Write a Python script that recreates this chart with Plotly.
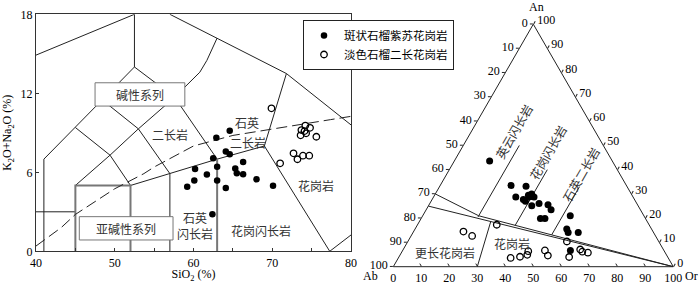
import plotly.graph_objects as go

W, H = 700, 283
SERIF = "Liberation Serif, Noto Sans CJK SC, serif"
CJK = "Noto Sans CJK SC, Liberation Serif, sans-serif"

name_f = "斑状石榴紫苏花岗岩"
name_o = "淡色石榴二长花岗岩"

# ---------------- TAS (SiO2 vs K2O+Na2O) data ----------------
sio2_f = [62.9, 64.6, 62.5, 64.1, 64.6, 60.2, 63.0, 66.3, 61.7, 65.3, 65.5, 66.3,
          60.1, 63.0, 68.0, 59.2, 64.1, 70.1, 62.4]
alk_f = [8.63, 9.16, 7.06, 7.58, 7.37, 6.25, 6.42, 6.78, 5.83, 6.29, 5.92, 5.85,
         5.38, 5.38, 5.47, 4.91, 4.81, 4.98, 2.81]
sio2_o = [69.9, 74.2, 74.8, 73.7, 74.1, 74.3, 73.6, 75.6, 71.0, 72.7, 73.2, 73.9, 74.7]
alk_o = [10.86, 9.55, 9.38, 9.21, 9.13, 8.96, 8.81, 8.70, 6.68, 7.44, 6.99, 7.26, 7.26]

# TAS field boundaries (Middlemost 1994), SiO2 / alkali pairs
b1_x, b1_y = [40, 52.5], [14.9, 18]
b2_x, b2_y = [52.5, 52.5], [18, 14]
b3_x, b3_y = [41, 41], [0, 7]
b4_x, b4_y = [40, 45], [3, 3]
b5_x, b5_y = [41, 45, 48.4, 52.5, 57.6, 63], [7, 9.4, 11.5, 14, 11.7, 7]
b6_x, b6_y = [45, 49.4, 52], [9.4, 7.3, 5]
b7_x, b7_y = [45, 49.4, 53, 57.6, 60.8, 61.7, 63], [5, 7.3, 9.3, 11.7, 13.6, 14.5, 16.2]
b8_x, b8_y = [48.4, 53, 57], [11.5, 9.3, 5.9]
b9_x, b9_y = [57, 71.8, 80], [18, 13.5, 9.6]
b10_x, b10_y = [52, 57, 63, 69], [5, 5.9, 7, 8]
b11_x, b11_y = [57, 57], [0, 5.9]
b12_x, b12_y = [69, 71.8], [8, 13.5]
b13_x, b13_y = [69, 77.3, 80], [8, 0, 1.24]
g1_x, g1_y = [45, 45, 52, 52], [0, 5, 5, 0]
g2_x, g2_y = [63, 63], [0, 7]
# Irvine & Baragar (1971) alkaline / subalkaline divide
ib_x = [40, 43.2, 45, 48, 50, 53.7, 55, 60, 65, 77.4, 80]
ib_y = [0.4, 1.8, 2.8, 4.0, 4.75, 5.9, 6.4, 8.0, 8.8, 10.0, 10.25]

black_lines = [(b1_x, b1_y), (b2_x, b2_y), (b3_x, b3_y), (b4_x, b4_y), (b5_x, b5_y),
               (b6_x, b6_y), (b7_x, b7_y), (b8_x, b8_y), (b9_x, b9_y), (b10_x, b10_y),
               (b11_x, b11_y), (b12_x, b12_y), (b13_x, b13_y)]
gray_lines = [(g1_x, g1_y), (g2_x, g2_y)]


def join(lines):
    xs, ys = [], []
    for x, y in lines:
        xs += list(x) + [None]
        ys += list(y) + [None]
    return xs, ys


# ---------------- An-Ab-Or ternary data ----------------
an_f = [43.6, 33.5, 33.2, 28.7, 27.7, 29.5, 30.0, 28.8, 28.7, 27.0, 25.1, 26.1, 25.5,
        23.5, 19.9, 19.9, 21.0, 15.5, 14.1, 14.1, 6.7]
or_f = [12.6, 25.3, 30.8, 29.4, 32.6, 33.5, 34.4, 34.4, 35.9, 33.7, 36.9, 39.0, 42.5,
        44.6, 42.6, 44.2, 52.7, 54.2, 55.4, 59.0, 59.9]
ab_f = [43.8, 41.2, 36.0, 41.9, 39.7, 37.0, 35.6, 36.8, 35.4, 39.3, 38.0, 34.9, 32.0,
        31.9, 37.5, 35.9, 26.3, 30.3, 30.5, 26.9, 33.4]
an_o = [14.5, 12.7, 17.3, 3.6, 4.1, 4.9, 6.4, 6.7, 4.6, 10.4, 4.0, 7.1, 6.2, 5.8]
or_o = [17.8, 21.8, 28.3, 40.1, 43.2, 45.4, 45.0, 50.8, 52.9, 56.8, 60.8, 63.2, 64.4, 66.6]
ab_o = [67.7, 65.5, 54.4, 56.3, 52.7, 49.7, 48.6, 42.5, 42.5, 32.8, 35.2, 29.7, 29.4, 27.6]

# ternary field boundaries (An, Ab, Or)
tA_an, tA_ab, tA_or = [30, 21, 0], [70, 59, 0], [0, 20, 100]
tB_an, tB_ab, tB_or = [25, 0], [75, 0], [0, 100]
t3_an, t3_ab, t3_or = [20.5, 50], [59.5, 30], [20, 20]
t4_an, t4_ab, t4_or = [17, 40], [48, 25], [35, 35]
t5_an, t5_ab, t5_or = [13.1, 33], [36.9, 17], [50, 50]
t6_an, t6_ab, t6_or = [0, 18.6], [70, 55.9], [30, 25.5]
tern_lines = [(tA_an, tA_ab, tA_or), (tB_an, tB_ab, tB_or), (t3_an, t3_ab, t3_or),
              (t4_an, t4_ab, t4_or), (t5_an, t5_ab, t5_or), (t6_an, t6_ab, t6_or)]
tern_ticks = [0, 10, 20, 30, 40, 50, 60, 70, 80, 90, 100]

fig = go.Figure()

bx, by = join(black_lines)
fig.add_trace(go.Scatter(x=bx, y=by, mode="lines", line=dict(color="#222", width=1),
                         showlegend=False, hoverinfo="skip"))
gx, gy = join(gray_lines)
fig.add_trace(go.Scatter(x=gx, y=gy, mode="lines", line=dict(color="#777", width=2),
                         showlegend=False, hoverinfo="skip"))
fig.add_trace(go.Scatter(x=ib_x, y=ib_y, mode="lines",
                         line=dict(color="#222", width=1, dash="11px,5px"),
                         showlegend=False, hoverinfo="skip"))
fig.add_trace(go.Scatter(x=sio2_f, y=alk_f, mode="markers", name=name_f,
                         marker=dict(symbol="circle", size=6.5, color="black",
                                     line=dict(width=0))))
fig.add_trace(go.Scatter(x=sio2_o, y=alk_o, mode="markers", name=name_o,
                         marker=dict(symbol="circle-open", size=6.5, color="black",
                                     line=dict(width=1.3))))

for a, b, c in tern_lines:
    fig.add_trace(go.Scatterternary(a=a, b=b, c=c, mode="lines",
                                    line=dict(color="#222", width=1),
                                    showlegend=False, hoverinfo="skip"))
fig.add_trace(go.Scatterternary(a=an_f, b=ab_f, c=or_f, mode="markers", name=name_f,
                                marker=dict(symbol="circle", size=7, color="black",
                                            line=dict(width=0)),
                                showlegend=False))
fig.add_trace(go.Scatterternary(a=an_o, b=ab_o, c=or_o, mode="markers", name=name_o,
                                marker=dict(symbol="circle-open", size=6.5, color="black",
                                            line=dict(width=1.3)),
                                showlegend=False))

# ---------------- layout ----------------
def px_x(p):
    """window pixel -> paper fraction"""
    return p / W


def px_y(p):
    return 1 - p / H


left_dom_x = [px_x(36), px_x(351)]
left_dom_y = [px_y(251.3), px_y(14.3)]
tri_w = 280.0
tri_h = tri_w * 3 ** 0.5 / 2
tern_dom_x = [px_x(393.3), px_x(393.3 + tri_w)]
tern_dom_y = [px_y(266.7), px_y(266.7 - tri_h)]

axfont = dict(family=SERIF, size=12, color="black")

tern_axis = dict(tickmode="array", tickvals=tern_ticks,
                 ticktext=[str(100 - v) for v in tern_ticks],
                 ticks="outside", ticklen=3, tickcolor="#222", showgrid=False,
                 showline=True, linecolor="#222", linewidth=1, tickfont=axfont, min=0,
                 title=dict(text=""))

fig.update_layout(
    template="none",
    width=W, height=H, margin=dict(l=0, r=0, t=0, b=0, autoexpand=False),
    paper_bgcolor="white", plot_bgcolor="white",
    font=dict(family=SERIF, size=12, color="black"),
    xaxis=dict(domain=left_dom_x, range=[40, 80], dtick=10, tick0=40, automargin=False,
               ticks="inside", ticklen=3, tickcolor="#333", ticklabeloverflow="allow",
               minor=dict(dtick=5, ticks="inside", ticklen=3, tickcolor="#333"),
               showline=True, linecolor="#333", linewidth=1, mirror=True,
               showgrid=False, zeroline=False, tickfont=axfont,
               title=dict(text="SiO<sub>2</sub> (%)", font=axfont, standoff=2)),
    yaxis=dict(domain=left_dom_y, range=[0, 18], dtick=6, tick0=0, automargin=False,
               ticks="inside", ticklen=3, tickcolor="#333", ticklabeloverflow="allow",
               showline=True, linecolor="#333", linewidth=1, mirror=True,
               showgrid=False, zeroline=False, tickfont=axfont,
               title=dict(text="K<sub>2</sub>O+Na<sub>2</sub>O (%)", font=axfont, standoff=10)),
    ternary=dict(
        sum=100, bgcolor="white",
        domain=dict(x=tern_dom_x, y=tern_dom_y),
        aaxis=tern_axis,
        baxis=dict(tern_axis, ticks="inside"),
        caxis=tern_axis,
    ),
    legend=dict(x=px_x(303), y=px_y(20), xanchor="left", yanchor="top",
                bordercolor="#222", borderwidth=1, bgcolor="white",
                font=dict(family=CJK, size=11.5, color="black"),
                itemwidth=30, tracegroupgap=0),
)

# series boxes on TAS
box_a_x, box_a_y = [47.5, 58.9], [11.03, 12.8]
box_s_x, box_s_y = [45.5, 57.4], [0.86, 2.63]
for bxr, byr in [(box_a_x, box_a_y), (box_s_x, box_s_y)]:
    fig.add_shape(type="rect", xref="x", yref="y", x0=bxr[0], x1=bxr[1], y0=byr[0], y1=byr[1],
                  line=dict(color="#777", width=1), fillcolor="white", layer="above")

labfont = dict(family=CJK, size=12, color="#333")
tas_labels = [("碱性系列", 53.2, 11.92), ("亚碱性系列", 51.45, 1.75), ("二长岩", 57.0, 8.9),
              ("石英", 66.8, 9.75), ("二长岩", 66.9, 8.3), ("花岗岩", 75.6, 5.0),
              ("石英", 60.2, 2.6), ("闪长岩", 60.2, 1.35), ("花岗闪长岩", 68.6, 1.6)]
for t, x, y in tas_labels:
    fig.add_annotation(text=t, x=x, y=y, xref="x", yref="y", showarrow=False, font=labfont,
                       xanchor="center", yanchor="middle")

tern_labels = [("英云闪长岩", 513, 131, -60), ("花岗闪长岩", 547, 152, -60),
               ("石英二长岩", 580, 174, -60), ("花岗岩", 512, 243, 0), ("更长花岗岩", 445, 252, 0)]
for t, x, y, ang in tern_labels:
    fig.add_annotation(text=t, x=px_x(x), y=px_y(y), xref="paper", yref="paper",
                       xanchor="center", yanchor="middle",
                       showarrow=False, textangle=ang, font=labfont)

# ternary apex names
apex_labels = [("An", 536, 7), ("Ab", 370, 276), ("Or", 691, 276)]
for t, x, y in apex_labels:
    fig.add_annotation(text=t, x=px_x(x), y=px_y(y), xref="paper", yref="paper",
                       xanchor="center", yanchor="middle", showarrow=False, font=axfont)

# the page body otherwise adds an 8px margin around the 700x283 figure
fig.write_html("out.html", config={"displayModeBar": False},
               post_script="document.body.style.margin='0px';")
